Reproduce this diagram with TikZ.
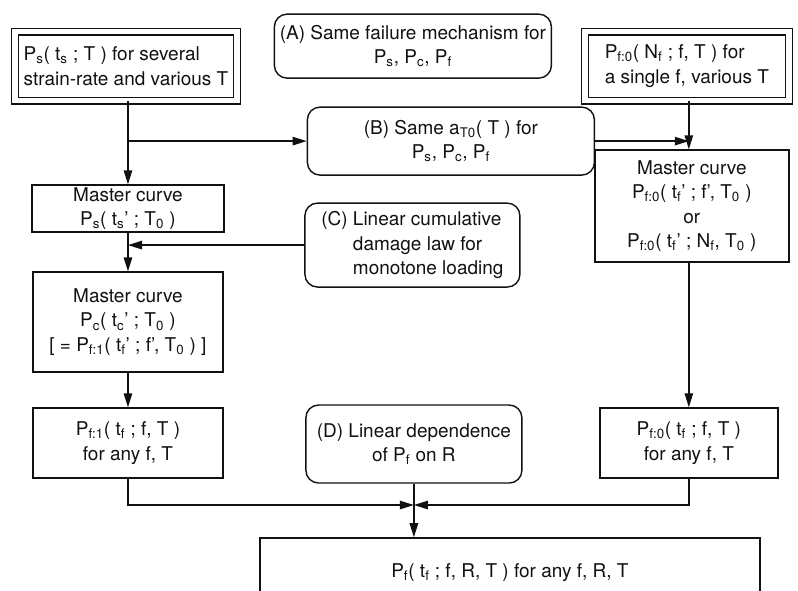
\documentclass[tikz,border=0pt]{standalone}
\usepackage{fontspec}
\setmainfont{TeX Gyre Heros}
\usetikzlibrary{arrows.meta, positioning, calc}
\definecolor{ink}{HTML}{111111}

\begin{document}
\begin{tikzpicture}[
    every node/.style={font=\fontsize{13.5}{17.5}\selectfont, text=ink},
    box/.style={draw=ink, line width=1pt, align=center, inner sep=1pt},
    src/.style={box, double, double distance=4pt, line width=0.8pt, align=left},
    note/.style={box, rounded corners=9pt},
    flow/.style={draw=ink, line width=1pt, -{Triangle[length=10pt, width=6pt]}},
]
\def\X#1{#1*0.025}
\def\Y#1{(590-#1)*0.025}
\def\Ps#1{P\textsubscript{#1}}
\def\ts#1{t\textsubscript{#1}}

\useasboundingbox (0, 0) rectangle (19.95, 14.75);

% the two data sources
\node[src, minimum width=5.55cm, minimum height=1.725cm] (srcS) at ({\X{126}}, {\Y{66}})
    {\Ps{s}( \ts{s} ; T ) for several\\ strain-rate and various T};
\node[src, minimum width=5.1cm, minimum height=1.725cm] (srcF) at ({\X{687}}, {\Y{66}})
    {\Ps{f:0}( N\textsubscript{f} ; f, T ) for\\ a single f, various T};

% the assumptions
\node[note, minimum width=6.925cm, minimum height=1.6cm] (asmA) at ({\X{413}}, {\Y{46}})
    {(A) Same failure mechanism for\\ \Ps{s}, \Ps{c}, \Ps{f}};
\node[note, minimum width=7.175cm, minimum height=1.7cm] (asmB) at ({\X{451}}, {\Y{141}})
    {(B) Same a\textsubscript{T0}( T ) for\\ \Ps{s}, \Ps{c}, \Ps{f}};
\node[note, align=left, minimum width=5.375cm, minimum height=2.1cm] (asmC) at ({\X{412.5}}, {\Y{245}})
    {(C) Linear cumulative\\ \hphantom{(C)} damage law for\\ \hphantom{(C)} monotone loading};
\node[note, minimum width=5.4cm, minimum height=1.95cm] (asmD) at ({\X{414}}, {\Y{444}})
    {(D) Linear dependence\\ of \Ps{f} on R};

% master curves
\node[box, minimum width=4.8cm, minimum height=1.175cm] (mcS) at ({\X{128}}, {\Y{208.5}})
    {Master curve\\ \Ps{s}( \ts{s}' ; T\textsubscript{0} )};
\node[box, minimum width=4.75cm, minimum height=2.5cm] (mcC) at ({\X{128}}, {\Y{322}})
    {Master curve\\ \Ps{c}( \ts{c}' ; T\textsubscript{0} )\\
     {[} = \Ps{f:1}( \ts{f}' ; f', T\textsubscript{0} ) {]}};
\node[box, minimum width=4.85cm, minimum height=2.8cm] (mcF) at ({\X{692}}, {\Y{206}})
    {Master curve\\ \Ps{f:0}( \ts{f}' ; f', T\textsubscript{0} )\\ or\\
     \Ps{f:0}( \ts{f}' ; N\textsubscript{f}, T\textsubscript{0} )};

% fatigue for any f, T
\node[box, minimum width=4.75cm, minimum height=1.75cm] (fatS) at ({\X{128}}, {\Y{443}})
    {\Ps{f:1}( \ts{f} ; f, T )\\ for any f, T};
\node[box, minimum width=4.45cm, minimum height=1.75cm] (fatF) at ({\X{689}}, {\Y{443}})
    {\Ps{f:0}( \ts{f} ; f, T )\\ for any f, T};

\node[box, minimum width=12.5cm, minimum height=1.75cm] (out) at ({\X{510}}, {\Y{573}})
    {\Ps{f}( \ts{f} ; f, R, T ) for any f, R, T};
\coordinate (mrg) at ({\X{414}}, {\Y{505}});

% connectors
\draw[flow] (srcS.south -| mcS.north) -- (mcS.north);
\draw[flow] (mcS.north |- asmB.west) -- (asmB.west);
\draw[flow] (asmB.east) -- (asmB.east -| fatF.north);
\draw[flow] (srcF.south -| fatF.north) -- (mcF.north -| fatF.north);
\draw[flow] (asmC.west) -- (asmC.west -| mcS.south);
\draw[flow] (mcS.south) -- (mcC.north);
\draw[flow] (mcC.south) -- (fatS.north);
\draw[flow] (mcF.south -| fatF.north) -- (fatF.north);
\draw[flow] (fatS.south) |- (mrg);
\draw[flow] (fatF.south) |- (mrg);
\draw[flow] (asmD.south) -- (asmD.south |- out.north);
\end{tikzpicture}
\end{document}
